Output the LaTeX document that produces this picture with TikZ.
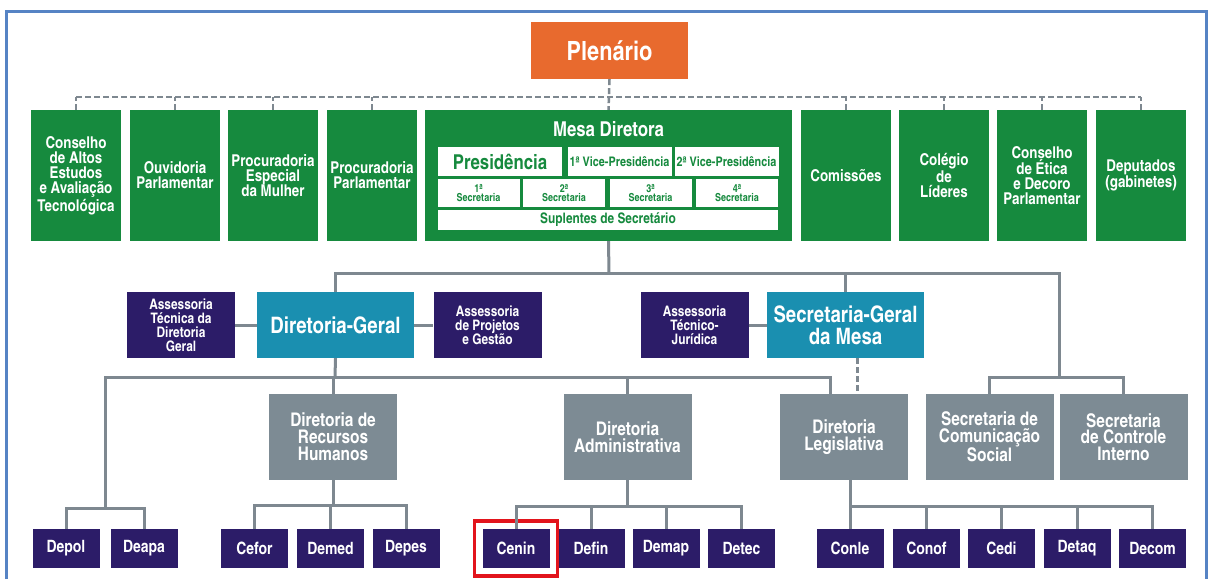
\documentclass[tikz,border=0pt]{standalone}
\usepackage{fontspec}
\setmainfont{texgyreheroscn}[Extension=.otf, UprightFont=*-regular, BoldFont=*-bold, ItalicFont=*-italic, BoldItalicFont=*-bolditalic]
\usetikzlibrary{fit}
\definecolor{camgreen}{RGB}{22,138,62}
\definecolor{camorange}{RGB}{232,106,46}
\definecolor{camteal}{RGB}{26,143,176}
\definecolor{camnavy}{RGB}{44,28,104}
\definecolor{camgray}{RGB}{125,139,148}
\definecolor{camline}{RGB}{126,136,144}
\definecolor{camframe}{RGB}{86,131,196}
\definecolor{camred}{RGB}{226,20,28}
\newcommand{\fs}[2]{\fontsize{#1}{#2}\selectfont\bfseries}
\begin{document}
\begin{tikzpicture}[x=1pt, y=-1pt,
    box/.style={rectangle, inner sep=1pt, align=center, text=white},
    plen/.style={box, fill=camorange, minimum width=157pt, minimum height=57pt, font=\fs{26.5}{27}},
    topbox/.style={box, fill=camgreen, minimum width=90pt, minimum height=131pt, font=\fs{16.3}{15.2}},
    mesabox/.style={box, fill=camgreen, minimum width=367pt, minimum height=131pt},
    inbox/.style={box, fill=white, text=camgreen, minimum height=28pt},
    vice/.style={inbox, inner sep=0pt, minimum width=104pt, minimum height=29pt, font=\fs{13.2}{13}},
    secbox/.style={inbox, minimum width=82pt, font=\fs{11}{9.5}},
    assbox/.style={box, fill=camnavy, minimum width=108pt, minimum height=66pt, font=\fs{14.5}{14}},
    headbox/.style={box, fill=camteal, minimum width=157pt, minimum height=66pt, font=\fs{22.7}{22}},
    dirbox/.style={box, fill=camgray, minimum width=128pt, minimum height=86pt, font=\fs{18.8}{16.8}},
    leaf/.style={box, fill=camnavy, minimum width=67pt, minimum height=39pt, font=\fs{17}{17}},
    link/.style={draw=camline, line width=3pt},
    dline/.style={draw=camline, line width=2.5pt, dash pattern=on 6pt off 3pt},
    hilite/.style={draw=camred, line width=3.5pt, rectangle, inner xsep=8pt, inner ysep=8pt}]
    \useasboundingbox (0,0) rectangle (1210,579);
    \draw[camframe, line width=3pt] (6.5,579) -- (6.5,11.5) -- (1206.5,11.5) -- (1206.5,579);

    % Root level
    \node[plen] (plen) at (609.5,50.5) {Plenário};

    % First level, under the Plenário
    \node[topbox] (cons) at (76,175.5) {Conselho\\de Altos\\Estudos\\e Avaliação\\Tecnológica};
    \node[topbox] (ouv) at (175,175.5) {Ouvidoria\\Parlamentar};
    \node[topbox] (pesp) at (273,175.5) {Procuradoria\\Especial\\da Mulher};
    \node[topbox] (ppar) at (372,175.5) {Procuradoria\\Parlamentar};
    \node[mesabox] (mesa) at (608.5,175.5) {};
    \node[topbox] (com) at (846,175.5) {Comissões};
    \node[topbox] (col) at (944,175.5) {Colégio\\de\\Líderes};
    \node[topbox] (etica) at (1042,175.5) {Conselho\\de Ética\\e Decoro\\Parlamentar};
    \node[topbox] (deps) at (1141,175.5) {Deputados\\(gabinetes)};

    % Inside the Mesa Diretora
    \node[box, font=\fs{20.5}{20}] (mesatit) at (608.5,129) {Mesa Diretora};
    \node[inbox, minimum width=124pt, minimum height=29pt, font=\fs{20.5}{20}] (pres) at (500,161.5) {Presidência};
    \node[vice] (vp1) at (619.5,161.5) {1ª Vice-Presidência};
    \node[vice] (vp2) at (726.5,161.5) {2ª Vice-Presidência};
    \node[secbox] (sec1) at (478.5,193) {1ª\\Secretaria};
    \node[secbox] (sec2) at (564,193) {2ª\\Secretaria};
    \node[secbox] (sec3) at (650.5,193) {3ª\\Secretaria};
    \node[secbox] (sec4) at (737,193) {4ª\\Secretaria};
    \node[inbox, minimum width=340pt, minimum height=20pt, font=\fs{14.5}{14}] (supl) at (608,220) {Suplentes de Secretário};

    % Second level
    \node[assbox] (atdg) at (181,325) {Assessoria\\Técnica da\\Diretoria\\Geral};
    \node[headbox] (dg) at (335.5,325) {Diretoria-Geral};
    \node[assbox] (apg) at (487.5,325) {Assessoria\\de Projetos\\e Gestão};
    \node[assbox] (atj) at (694.5,325) {Assessoria\\Técnico-\\Jurídica};
    \node[headbox] (sgm) at (845.5,325) {Secretaria-Geral\\da Mesa};

    % Third level
    \node[dirbox] (drh) at (333,437) {Diretoria de\\Recursos\\Humanos};
    \node[dirbox] (da) at (627.5,437) {Diretoria\\Administrativa};
    \node[dirbox] (dl) at (844,437) {Diretoria\\Legislativa};
    \node[dirbox] (scs) at (989.5,437) {Secretaria de\\Comunicação\\Social};
    \node[dirbox] (sci) at (1123.5,437) {Secretaria\\de Controle\\Interno};

    % Departments
    \node[leaf] (depol) at (66,548.5) {Depol};
    \node[leaf] (deapa) at (144,548.5) {Deapa};
    \node[leaf] (cefor) at (254.5,548.5) {Cefor};
    \node[leaf] (demed) at (330.5,548.5) {Demed};
    \node[leaf] (depes) at (406,548.5) {Depes};
    \node[leaf] (cenin) at (516,548.5) {Cenin};
    \node[leaf] (defin) at (591,548.5) {Defin};
    \node[leaf] (demap) at (666,548.5) {Demap};
    \node[leaf] (detec) at (741.5,548.5) {Detec};
    \node[leaf] (conle) at (850,548.5) {Conle};
    \node[leaf] (conof) at (926.5,548.5) {Conof};
    \node[leaf] (cedi) at (1001.5,548.5) {Cedi};
    \node[leaf] (detaq) at (1077,548.5) {Detaq};
    \node[leaf] (decom) at (1152.5,548.5) {Decom};
    \node[hilite, fit=(cenin)] (mark) {};

    % Dashed links of the Plenário
    \coordinate (dbus) at (609,97);
    \draw[dline] (cons.north |- dbus) -- (deps.north |- dbus);
    \draw[dline] (plen.south) -- (mesa.north);
    \foreach \n in {cons,ouv,pesp,ppar,com,col,etica,deps}
        \draw[dline] (\n.north) -- (\n.north |- dbus);

    % Solid links
    \coordinate (topbus) at (609,273);
    \coordinate (rbus) at (1059,377);
    \draw[link] (mesa.south) -- (topbus);
    \draw[link] (dg.north) |- (topbus);
    \draw[link] (sgm.north) |- (topbus);
    \draw[link] (topbus) -| (rbus);
    \draw[link] (scs.north) |- (rbus);
    \draw[link] (sci.north) |- (rbus);
    \draw[link] (atdg) -- (dg);
    \draw[link] (dg) -- (apg);
    \draw[link] (atj) -- (sgm);

    \coordinate (dgbus) at (335,377);
    \coordinate (depbus) at (105,508);
    \draw[link] (dg.south) -- (dgbus);
    \draw[link] (drh.north) |- (dgbus);
    \draw[link] (da.north) |- (dgbus);
    \draw[link] (dgbus) -| ([xshift=-14pt]dl.north);
    \draw[link] (dgbus) -| (depbus);
    \draw[link] (depol.north) |- (depbus);
    \draw[link] (deapa.north) |- (depbus);
    \draw[dline] ([xshift=12pt]sgm.south) -- ([xshift=12pt]sgm.south |- dl.north);

    \foreach \c in {cefor,demed,depes}
        \draw[link] (drh.south) -- ++(0,25) -| (\c.north);
    \foreach \c in {cenin,defin,demap,detec}
        \draw[link] (da.south) -- ++(0,26) -| (\c.north);
    \foreach \c in {conle,conof,cedi,detaq,decom}
        \draw[link] ([xshift=6pt]dl.south) -- ++(0,26) -| (\c.north);
\end{tikzpicture}
\end{document}
